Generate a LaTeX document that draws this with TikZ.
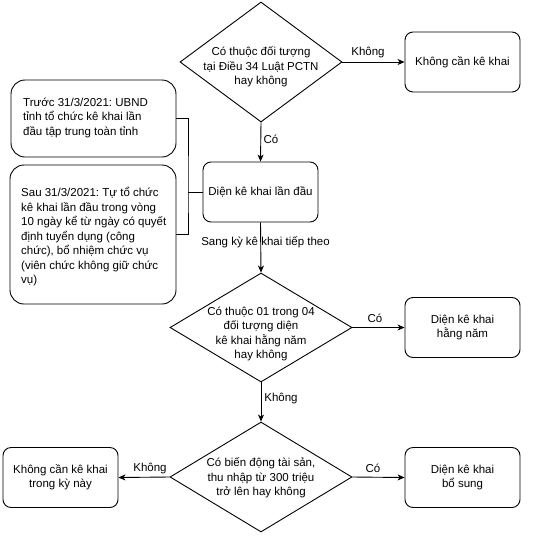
\documentclass[tikz,border=0pt]{standalone}
\usepackage{fontspec}
\setmainfont{Liberation Sans}
\usetikzlibrary{shapes.geometric,arrows.meta}
\frenchspacing
\begin{document}
\begin{tikzpicture}[x=1pt,y=-1pt,
  every node/.style={font=\fontsize{11.5}{14.5}\selectfont},
  box/.style={draw, line width=0.9pt, rounded corners=8pt, minimum width=115pt, minimum height=60pt, align=center, inner sep=0pt},
  notebox/.style={draw, line width=0.9pt, rounded corners=14pt, inner sep=0pt},
  decision/.style={draw, line width=0.9pt, diamond, inner sep=0pt},
  txt/.style={align=center, inner sep=0pt},
  ltxt/.style={align=left, inner sep=0pt, anchor=west},
  lbl/.style={inner sep=0pt},
  conn/.style={line width=0.9pt, -{Stealth[length=7pt,width=6pt,inset=2pt]}},
  plain/.style={line width=0.9pt}
]
\useasboundingbox (0,0) rectangle (546,536);

% decisions
\node[decision, minimum width=162pt, minimum height=120pt] (d1) at (261,62) {};
\node[txt] (d1t) at (261,67) {Có thuộc đối tượng\\tại Điều 34 Luật PCTN\\hay không};

\node[decision, minimum width=182pt, minimum height=109pt] (d2) at (261,327.5) {};
\node[txt] (d2t) at (261,334) {Có thuộc 01 trong 04\\đối tượng diện\\kê khai hằng năm\\hay không};

\node[decision, minimum width=182pt, minimum height=110pt] (d3) at (261,477) {};
\node[txt] (d3t) at (261,478) {Có biến động tài sản,\\thu nhập từ 300 triệu\\trở lên hay không};

% boxes
\node[box] (kck) at (462.5,62) {Không cần kê khai};
\node[box] (ddau) at (260.5,192) {Diện kê khai lần đầu};
\node[box] (dhn) at (462.5,327.5) {Diện kê khai\\hằng năm};
\node[box] (kcky) at (60.5,477.5) {Không cần kê khai\\trong kỳ này};
\node[box] (dbs) at (462.5,477.5) {Diện kê khai\\bổ sung};

% left notes
\node[notebox, minimum width=165pt, minimum height=77pt] (n1) at (93.5,118.5) {};
\node[ltxt] (n1t) at (23,117.5)
  {Trước 31/3/2021: UBND\\tỉnh tổ chức kê khai lần\\đầu tập trung toàn tỉnh};
\node[notebox, minimum width=166pt, minimum height=139pt] (n2) at (93,234.5) {};
\node[ltxt] (n2t) at (21,237)
  {Sau 31/3/2021: Tự tổ chức\\kê khai lần đầu trong vòng\\10 ngày kể từ ngày có quyết\\định tuyển dụng (công\\chức), bổ nhiệm chức vụ\\(viên chức không giữ chức\\vụ)};

\coordinate (j) at (188,192);
\draw[plain] (n1.east) -| (j) |- (n2.east);
\draw[plain] (j) -- (ddau.west);

% connectors
\draw[conn] (d1.east) -- (kck.west);
\draw[conn] (d1.south) -- (ddau.north);
\draw[conn] (ddau.south) -- (d2.north);
\draw[conn] (d2.east) -- (dhn.west);
\draw[conn] (d2.south) -- (d3.north);
\draw[conn] (d3.west) -- (kcky.east);
\draw[conn] (d3.east) -- (dbs.west);

% labels
\node[lbl] (l1) at (368,53) {Không};
\node[lbl] (l2) at (271,139) {Có};
\node[lbl] (l3) at (265.5,242) {Sang kỳ kê khai tiếp theo};
\node[lbl] (l4) at (375,318) {Có};
\node[lbl] (l5) at (281,398) {Không};
\node[lbl] (l6) at (150,468) {Không};
\node[lbl] (l7) at (373,468) {Có};
\end{tikzpicture}
\end{document}
